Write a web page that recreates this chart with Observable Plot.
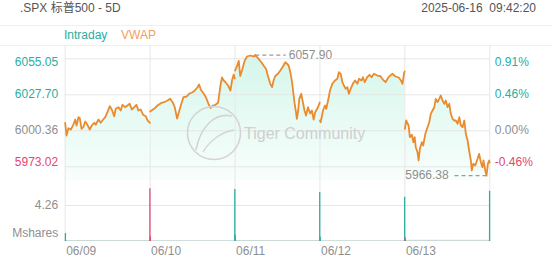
<!DOCTYPE html>
<html><head><meta charset="utf-8">
<script src="https://cdn.jsdelivr.net/npm/d3@7"></script>
<script src="https://cdn.jsdelivr.net/npm/@observablehq/plot@0.6"></script>
<style>
body{margin:0;background:#fff;font-family:"Liberation Sans",Arial,"Noto Sans CJK SC",sans-serif;}
#wrap{position:relative;width:552px;height:265px;overflow:hidden;background:#fff;}
.t{position:absolute;font-size:12px;line-height:12px;white-space:pre;}
.hl{position:absolute;left:0;width:552px;height:1px;background:#f0f0f0;}
.pl{position:absolute;left:0;}
#wm{position:absolute;left:0;top:0;pointer-events:none;}
</style></head><body>
<div id="wrap">
  <div class="t" id="title" style="left:20px;top:2px;color:#555"></div>
  <div class="t" id="stamp" style="right:16px;top:2px;color:#555"></div>
  <div class="hl" style="top:25px"></div>
  <div class="t" id="leg1" style="left:64px;top:29px;color:#2aae9f"></div>
  <div class="t" id="leg2" style="left:121px;top:29px;color:#f0a060"></div>
  <div class="hl" style="top:45px"></div>
  <div class="pl" id="price" style="top:45px"></div>
  <div class="pl" id="vol" style="top:180px"></div>
  <svg id="wm" width="552" height="265">
    <circle cx="214" cy="133" r="26.5" fill="none" stroke="#d4d4d4" stroke-width="1.6"/>
    <path d="M196,150 C200,128 214,112 232,116" fill="none" stroke="#d4d4d4" stroke-width="1.6"/>
    <path d="M203,152 C210,140 222,132 234,130" fill="none" stroke="#d4d4d4" stroke-width="1.4"/>
    <text id="wmtext" x="244" y="133" dominant-baseline="central" font-size="16" fill="#cfcfcf" font-family="Liberation Sans, Arial, sans-serif"></text>
  </svg>
</div>
<script>
const titleText = ".SPX 标普500 - 5D";
const stampText = "2025-06-16  09:42:20";
const legendLabels = ["Intraday", "VWAP"];
const watermark = "Tiger Community";

const days = ["06/09", "06/10", "06/11", "06/12", "06/13"];
const prevClose = 6000.36;
const priceTicks = [6055.05, 6027.70, 6000.36, 5973.02];
const pctTicks = ["0.91%", "0.46%", "0.00%", "-0.46%"];
const volTick = 4.26;
const volUnit = "Mshares";

// [minute from open, price]
const day0609 = [[0,6006.44],[6,5996.79],[15,6002.33],[26,6001.35],[37,6004.92],[46,6008.94],[52,6004.39],[61,6010.69],[67,6009.93],[75,6001.88],[83,6003.09],[92,6007.42],[102,6004.92],[113,6001.35],[122,6004.39],[133,6006.44],[140,6004.92],[153,6008.94],[163,6006.44],[171,6008.18],[184,6010.69],[194,6014.48],[205,6019.04],[214,6016.54],[225,6011.45],[232,6017.07],[245,6018.28],[255,6015.78],[263,6020.10],[275,6018.28],[286,6019.57],[296,6020.86],[306,6016.54],[317,6018.28],[327,6020.10],[336,6015.78],[347,6016.54],[358,6012.51],[370,6011.45],[379,6008.18],[389,6006.44]];
const day0610 = [[0,6015.02],[18,6017.07],[34,6019.57],[49,6021.32],[64,6022.08],[80,6023.37],[92,6024.66],[103,6022.08],[113,6018.28],[124,6009.70],[128,6011.98],[141,6019.57],[153,6025.88],[168,6026.41],[179,6028.46],[195,6029.67],[205,6030.96],[217,6033.24],[225,6035.52],[233,6031.49],[245,6028.91],[256,6025.88],[269,6020.33],[278,6017.67],[288,6019.57],[300,6020.10],[312,6021.62],[323,6034.76],[330,6040.84],[338,6038.56],[346,6037.27],[358,6034.76],[369,6030.96],[376,6038.56],[384,6043.11],[389,6040.08]];
const day0611 = [[0,6046.15],[7,6048.66],[17,6053.45],[24,6041.95],[32,6046.15],[44,6053.45],[55,6056.78],[70,6057.54],[85,6056.78],[93,6057.90],[108,6055.03],[121,6052.45],[131,6049.95],[142,6047.44],[151,6041.95],[162,6036.05],[170,6033.47],[177,6038.56],[185,6041.98],[197,6043.65],[208,6046.15],[218,6048.66],[231,6052.45],[246,6049.95],[254,6044.86],[262,6037.27],[269,6027.17],[275,6019.57],[280,6014.48],[284,6009.47],[290,6015.78],[295,6024.66],[304,6028.46],[310,6023.37],[319,6015.78],[326,6011.98],[335,6018.28],[345,6013.50],[353,6015.78],[361,6008.94],[368,6014.48],[381,6018.28],[389,6021.85]];
const day0612 = [[0,6008.18],[3,6006.89],[8,6010.69],[14,6015.78],[23,6019.57],[29,6017.07],[39,6024.66],[46,6030.96],[57,6036.05],[69,6038.56],[80,6039.85],[87,6044.86],[95,6043.65],[103,6037.27],[110,6034.76],[118,6032.25],[126,6033.47],[133,6028.46],[141,6032.25],[151,6036.05],[161,6038.56],[172,6036.05],[179,6039.85],[191,6038.56],[197,6041.06],[206,6037.27],[217,6041.06],[228,6042.89],[237,6041.06],[248,6043.65],[263,6042.35],[278,6041.82],[286,6039.85],[301,6037.27],[315,6041.06],[332,6043.65],[347,6041.60],[362,6040.84],[372,6038.56],[379,6036.05],[387,6044.63],[389,6045.39]];
const day0613 = [[0,6001.88],[6,6008.18],[17,6004.39],[23,5995.50],[32,5997.32],[39,5991.70],[45,5995.50],[50,5987.91],[58,5984.11],[63,5977.81],[69,5986.69],[78,5991.70],[84,5989.20],[94,5998.08],[104,6003.09],[112,6006.89],[119,6013.27],[127,6015.78],[135,6018.28],[142,6024.66],[150,6022.08],[158,6024.66],[165,6027.17],[173,6023.37],[181,6020.86],[188,6023.37],[196,6018.28],[204,6020.86],[211,6013.27],[219,6009.47],[227,6008.18],[234,6008.18],[242,6005.68],[250,6010.69],[257,6004.39],[265,6003.09],[273,6008.18],[280,5998.08],[288,5993.00],[295,5985.41],[303,5977.81],[307,5970.22],[314,5975.30],[323,5974.01],[334,5979.10],[341,5982.89],[349,5976.51],[356,5972.72],[361,5977.81],[369,5970.22],[375,5966.38],[381,5975.30],[387,5977.81],[389,5976.29]];

// volume (millions of shares)
const volOpen = [0.95, 0.55, 0.75, 0.5, 0.45];
const openUp = [true, false, true, true, false];
const volClose = [6.24, 6.15, 5.8, 5.24, 5.95];
const closeUp = [false, true, true, true, true];
const volBase = [0.12, 0.1, 0.12, 0.1, 0.14];

// ---------- build ----------
document.getElementById("title").textContent = titleText;
document.getElementById("stamp").textContent = stampText;
document.getElementById("leg1").textContent = legendLabels[0];
document.getElementById("leg2").textContent = legendLabels[1];
document.getElementById("wmtext").textContent = watermark;

const DAYMIN = 390;
const W = 552, ML = 64.7, MR = 62.7;
const teal = "#2aae9f", pink = "#e5466f", grey = "#8f8f8f", gridC = "#e6e6e6";
const font = "Liberation Sans, Arial, sans-serif";
const rows = [];
[day0609, day0610, day0611, day0612, day0613].forEach((arr, i) =>
  arr.forEach(([m, p]) => rows.push({day: days[i], t: i * DAYMIN + m, p})));
const bounds = d3.range(days.length + 1).map(i => i * DAYMIN);
const xDom = [0, days.length * DAYMIN];
const yDom = [5962.62, 6065.14];
const tickColor = v => v > prevClose + 0.005 ? teal : (v < prevClose - 0.005 ? pink : grey);
const labelDy = [3.5, -1, -0.5, -4.5];
const hi = d3.greatest(rows, d => d.p), lo = d3.least(rows, d => d.p);

const priceChart = Plot.plot({
  width: W, height: 135, marginLeft: ML, marginRight: MR, marginTop: 0, marginBottom: 0,
  x: {domain: xDom, axis: null},
  y: {domain: yDom, axis: null},
  style: {background: "transparent", fontFamily: font, fontSize: "12px", overflow: "visible"},
  marks: [
    Plot.areaY(rows, {x: "t", y1: yDom[0], y2: "p", z: "day", fill: "url(#pg)"}),
    Plot.ruleY(priceTicks, {stroke: gridC}),
    Plot.ruleX(bounds, {stroke: gridC}),
    Plot.lineY(rows, {x: "t", y: "p", z: "day", stroke: "#ea8b2e", strokeWidth: 1.8, strokeLinejoin: "round"}),
    Plot.link([hi], {x1: "t", y1: "p", x2: d => d.t + 140, y2: "p", stroke: "#9a9a9a", strokeDasharray: "4,3", strokeWidth: 1.2}),
    Plot.text([hi], {x: d => d.t + 140, y: "p", text: d => d.p.toFixed(2), textAnchor: "start", dx: 3, fill: grey, fontSize: 12}),
    Plot.link([lo], {x1: "t", y1: "p", x2: d => d.t - 160, y2: "p", stroke: "#9a9a9a", strokeDasharray: "4,3", strokeWidth: 1.2}),
    Plot.text([lo], {x: d => d.t - 160, y: "p", text: d => d.p.toFixed(2), textAnchor: "end", dx: -3, fill: grey, fontSize: 12}),
    ...priceTicks.map((v, i) => Plot.text([v], {y: d => d, text: d => d.toFixed(2), frameAnchor: "left", textAnchor: "end", dx: -7, dy: labelDy[i], fill: tickColor(v), fontSize: 12})),
    ...priceTicks.map((v, i) => Plot.text([v], {y: d => d, text: () => pctTicks[i], frameAnchor: "right", textAnchor: "start", dx: 5, dy: labelDy[i], fill: tickColor(v), fontSize: 12}))
  ]
});
const defs = d3.select(priceChart).insert("defs", ":first-child");
const grad = defs.append("linearGradient").attr("id", "pg").attr("gradientUnits", "userSpaceOnUse")
  .attr("x1", 0).attr("x2", 0).attr("y1", 0).attr("y2", 135);
grad.append("stop").attr("offset", "0%").attr("stop-color", "#d2f6e9");
grad.append("stop").attr("offset", "100%").attr("stop-color", "#f8fefc");
document.getElementById("price").appendChild(priceChart);

const volRows = [];
days.forEach((d, i) => {
  volRows.push({t: i * DAYMIN + 1, v: volOpen[i], c: openUp[i] ? teal : pink});
  volRows.push({t: i * DAYMIN + DAYMIN - 1, v: volClose[i], c: closeUp[i] ? teal : pink});
});
const baseRows = days.map((d, i) => ({t1: i * DAYMIN, t2: (i + 1) * DAYMIN, v: volBase[i]}));

const volChart = Plot.plot({
  width: W, height: 85, marginLeft: ML, marginRight: MR, marginTop: 0, marginBottom: 24,
  x: {domain: xDom, axis: null},
  y: {domain: [0, 7.218], axis: null},
  color: {type: "identity"},
  style: {background: "transparent", fontFamily: font, fontSize: "12px", overflow: "visible"},
  marks: [
    Plot.ruleY([volTick], {stroke: gridC}),
    Plot.ruleX(bounds, {stroke: gridC}),
    Plot.rect(baseRows, {x1: "t1", x2: "t2", y1: 0, y2: "v", fill: "#c9d9d6"}),
    Plot.ruleX(volRows, {x: "t", y1: 0, y2: "v", stroke: "c", strokeWidth: 1.3}),
    Plot.text([volTick], {y: d => d, text: d => d.toFixed(2), frameAnchor: "left", textAnchor: "end", dx: -7, fill: grey, fontSize: 12}),
    Plot.text([volUnit], {text: d => d, frameAnchor: "bottom-left", textAnchor: "end", dx: -7, dy: -5, fill: grey, fontSize: 12}),
    Plot.text(days, {x: (d, i) => i * DAYMIN, text: d => d, frameAnchor: "bottom", textAnchor: "start", dx: 1, dy: 13, fill: grey, fontSize: 12})
  ]
});
document.getElementById("vol").appendChild(volChart);
</script>
</body></html>
